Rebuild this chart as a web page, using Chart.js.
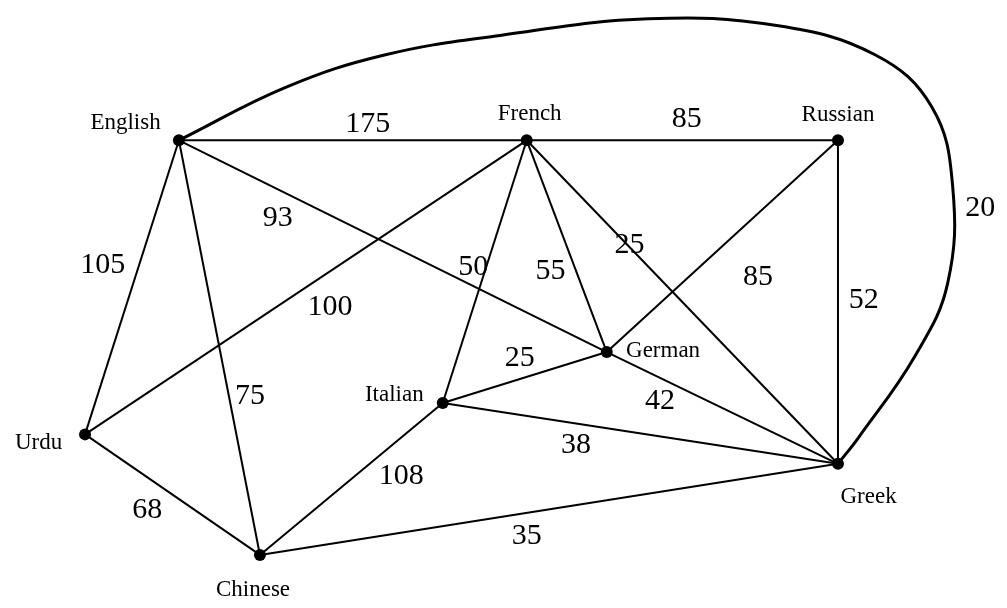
<!DOCTYPE html>
<html>
<head>
<meta charset="utf-8">
<script src="https://cdn.jsdelivr.net/npm/chart.js@4/dist/chart.umd.min.js"></script>
<style>
  html, body { margin: 0; padding: 0; background: #fff; }
  #wrap { width: 1007px; height: 608px; }
</style>
</head>
<body>
<div id="wrap"><canvas id="c" width="1007" height="608"></canvas></div>
<script>
// Nodes (languages) and their positions on the diagram
const nodeNames = ["English", "French", "Russian", "Urdu", "Chinese", "Italian", "German", "Greek"];
const nodeX = [175, 527, 842, 80, 257, 442, 608, 842];
const nodeY = [137, 137, 137, 437, 560, 405, 353, 467];
// Node label anchors (centre x, baseline y)
const nodeLabelX = [121, 530, 842, 33, 250, 393, 665, 873];
const nodeLabelY = [125, 116, 117, 452, 602, 403, 358, 507];

// Straight edges: from, to, weight
const edgeFrom = ["English", "French", "English", "English", "English", "Urdu", "Urdu", "French", "French", "French", "Russian", "Russian", "Italian", "German", "Italian", "Italian", "Chinese"];
const edgeTo = ["French", "Russian", "Urdu", "Chinese", "German", "French", "Chinese", "Italian", "German", "Greek", "German", "Greek", "German", "Greek", "Greek", "Chinese", "Greek"];
const edgeWeights = [175, 85, 105, 75, 93, 100, 68, 50, 55, 25, 85, 52, 25, 42, 38, 108, 35];
const weightX = [366, 689, 98, 247, 275, 328, 143, 473, 551, 631, 761, 868, 520, 662, 577, 400, 527];
const weightY = [120, 115, 264, 398, 216, 307, 514, 266, 270, 244, 277, 300, 359, 403, 448, 480, 541];

// Curved edge English - Greek
const curveWeight = 20;
const curveWeightPos = [986, 206];
const curveX = [175, 283, 383, 500, 650, 780, 880, 937, 958, 953, 920, 863, 842];
const curveY = [137, 83, 50, 30, 13, 20, 50, 103, 183, 283, 357, 440, 467];

const idx = n => nodeNames.indexOf(n);
const datasets = [];

edgeFrom.forEach((f, i) => {
  const a = idx(f), b = idx(edgeTo[i]);
  datasets.push({
    type: 'scatter', showLine: true,
    data: [{x: nodeX[a], y: nodeY[a]}, {x: nodeX[b], y: nodeY[b]}],
    borderColor: '#000', borderWidth: 2, pointRadius: 0, fill: false
  });
});

datasets.push({
  type: 'scatter', showLine: true,
  data: curveX.map((x, i) => ({x, y: curveY[i]})),
  borderColor: '#000', borderWidth: 3, pointRadius: 0, tension: 0.4, fill: false
});

datasets.push({
  type: 'scatter',
  data: nodeX.map((x, i) => ({x, y: nodeY[i]})),
  backgroundColor: '#000', borderColor: '#000', pointRadius: 6, pointHoverRadius: 6, borderWidth: 0
});

const labelPlugin = {
  id: 'labels',
  afterDatasetsDraw(chart) {
    const ctx = chart.ctx, xs = chart.scales.x, ys = chart.scales.y;
    ctx.save();
    ctx.fillStyle = '#000';
    ctx.textAlign = 'center';
    ctx.textBaseline = 'alphabetic';
    ctx.font = '23px "Liberation Serif", "Times New Roman", serif';
    nodeNames.forEach((n, i) => {
      ctx.fillText(n, xs.getPixelForValue(nodeLabelX[i]), ys.getPixelForValue(nodeLabelY[i]));
    });
    ctx.textBaseline = 'middle';
    ctx.font = '30px "Liberation Serif", "Times New Roman", serif';
    edgeWeights.forEach((w, i) => {
      ctx.fillText(String(w), xs.getPixelForValue(weightX[i]), ys.getPixelForValue(weightY[i]));
    });
    ctx.fillText(String(curveWeight), xs.getPixelForValue(curveWeightPos[0]), ys.getPixelForValue(curveWeightPos[1]));
    ctx.restore();
  }
};

new Chart(document.getElementById('c'), {
  type: 'scatter',
  data: { datasets },
  options: {
    responsive: false,
    animation: false,
    layout: { padding: 0 },
    plugins: { legend: { display: false }, tooltip: { enabled: false }, title: { display: false } },
    scales: {
      x: { type: 'linear', min: 0, max: 1007, display: false },
      y: { type: 'linear', min: 0, max: 608, reverse: true, display: false }
    }
  },
  plugins: [labelPlugin]
});
</script>
</body>
</html>
